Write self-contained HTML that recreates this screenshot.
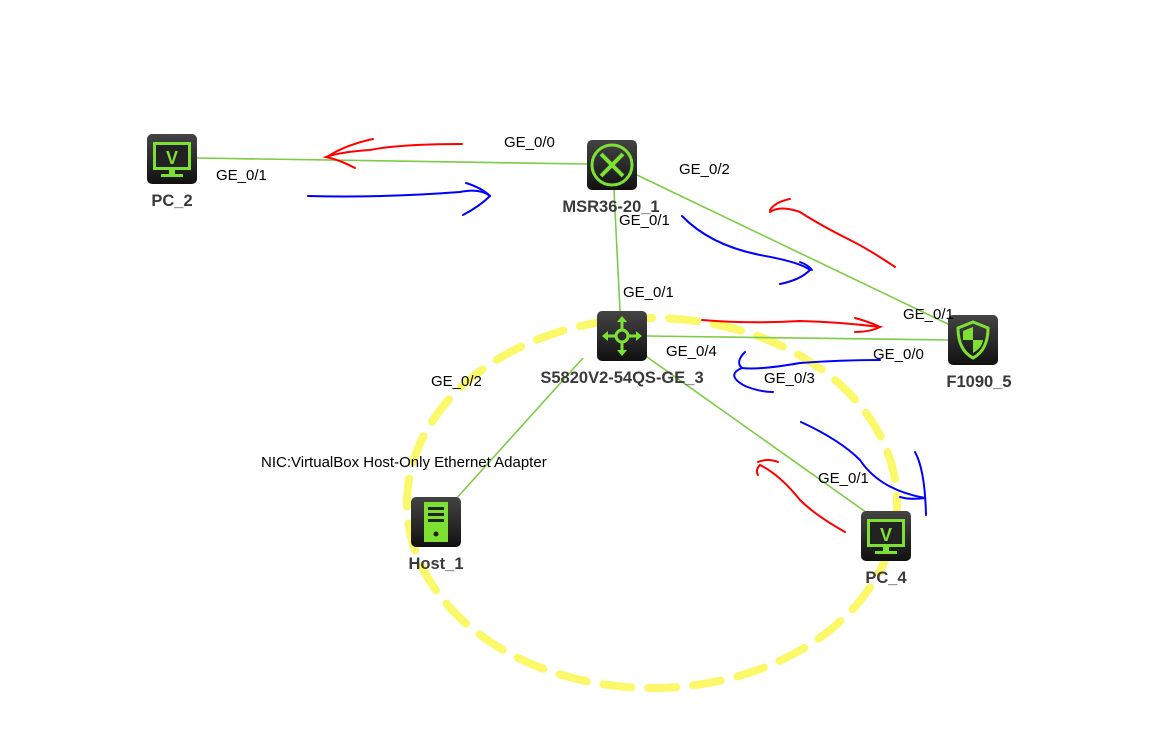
<!DOCTYPE html>
<html><head><style>body{margin:0;background:#fff}svg{display:block}text{font-family:"Liberation Sans",sans-serif}</style></head><body>
<svg width="1159" height="740" viewBox="0 0 1159 740">
<ellipse cx="652" cy="503" rx="245" ry="185" fill="none" stroke="#fbf86a" stroke-width="8" stroke-dasharray="28 17" stroke-linecap="round"/>
<g stroke="#7dcb46" stroke-width="1.6" fill="none">
<line x1="197" y1="158" x2="587" y2="164"/>
<line x1="637" y1="175" x2="952" y2="326"/>
<line x1="614" y1="190" x2="620" y2="311"/>
<line x1="647" y1="336" x2="948" y2="340"/>
<line x1="583" y1="358" x2="455" y2="500"/>
<line x1="640" y1="352" x2="870" y2="515"/>
</g>
<g fill="none" stroke-width="2" stroke-linecap="round">
<path d="M462 144 Q400 144 370 150 Q340 152 326 157 Q340 160 355 168" stroke="#f00"/>
<path d="M327 157 Q345 145 373 139" stroke="#f00"/>
<path d="M308 196 Q380 198 460 192 Q480 188 490 196 Q480 206 463 215" stroke="#00f"/>
<path d="M466 183 Q482 188 490 196" stroke="#00f"/>
<path d="M895 267 Q870 250 850 240 Q820 225 800 212 Q780 205 770 212" stroke="#f00"/>
<path d="M770 210 Q775 202 790 199" stroke="#f00"/>
<path d="M682 216 Q710 245 760 255 Q800 262 810 270 Q800 280 780 284" stroke="#00f"/>
<path d="M800 262 Q808 265 812 270" stroke="#00f"/>
<path d="M702 320 Q750 324 800 321 Q840 322 880 327 Q870 332 855 332" stroke="#f00"/>
<path d="M855 318 Q870 322 880 327" stroke="#f00"/>
<path d="M880 360 Q840 360 800 363 Q760 370 742 368 Q725 375 745 386 Q760 392 773 392" stroke="#00f"/>
<path d="M742 368 Q735 362 745 352" stroke="#00f"/>
<path d="M845 532 Q815 515 800 500 Q780 475 760 465 Q755 470 758 475" stroke="#f00"/>
<path d="M758 462 Q768 458 778 462" stroke="#f00"/>
<path d="M801 422 Q840 440 860 460 Q880 490 925 498 Q910 500 900 497" stroke="#00f"/>
<path d="M915 452 Q925 470 926 515" stroke="#00f"/>
</g>
<defs>
<linearGradient id="g" x1="0" y1="0" x2="0" y2="1"><stop offset="0" stop-color="#444"/><stop offset="1" stop-color="#111"/></linearGradient>
</defs>
<g stroke="none">
<rect x="147" y="134" width="50" height="50" rx="5" fill="url(#g)"/>
<rect x="153" y="142" width="38" height="28" fill="#7ee033"/><rect x="156" y="145" width="32" height="22" fill="#222"/>
<text x="172" y="164" font-size="18" font-weight="bold" fill="#7ee033" text-anchor="middle">V</text>
<rect x="169" y="170" width="6" height="4" fill="#7ee033"/><rect x="161" y="174" width="22" height="3" fill="#7ee033"/>
<rect x="861" y="511" width="50" height="50" rx="5" fill="url(#g)"/>
<rect x="867" y="519" width="38" height="28" fill="#7ee033"/><rect x="870" y="522" width="32" height="22" fill="#222"/>
<text x="886" y="541" font-size="18" font-weight="bold" fill="#7ee033" text-anchor="middle">V</text>
<rect x="883" y="547" width="6" height="4" fill="#7ee033"/><rect x="875" y="551" width="22" height="3" fill="#7ee033"/>
<rect x="587" y="140" width="50" height="50" rx="5" fill="url(#g)"/>
<circle cx="612" cy="165" r="20" fill="none" stroke="#7ee033" stroke-width="3"/>
<path d="M601 154 L623 176 M623 154 L601 176" stroke="#7ee033" stroke-width="4"/>
<rect x="597" y="311" width="50" height="50" rx="5" fill="url(#g)"/>
<circle cx="622" cy="336" r="6" fill="none" stroke="#7ee033" stroke-width="3"/>
<path d="M622 318 V330 M622 342 V354 M604 336 H616 M628 336 H640" stroke="#7ee033" stroke-width="3"/>
<path d="M617 322 L622 316 L627 322Z M617 350 L622 356 L627 350Z M608 331 L602 336 L608 341Z M636 331 L642 336 L636 341Z" fill="#7ee033"/>
<rect x="948" y="315" width="50" height="50" rx="5" fill="url(#g)"/>
<path d="M973 322 L988 328 Q988 350 973 358 Q958 350 958 328Z" fill="none" stroke="#7ee033" stroke-width="3"/>
<path d="M973 327 L973 340 L983 340 Q982 348 973 353Z M973 327 L963 331 L963 340 L973 340Z" fill="#7ee033"/>
<rect x="411" y="497" width="50" height="50" rx="5" fill="url(#g)"/>
<rect x="424" y="502" width="24" height="40" fill="#7ee033"/>
<rect x="428" y="507" width="16" height="3" fill="#222"/><rect x="428" y="513" width="16" height="3" fill="#222"/><rect x="428" y="519" width="16" height="3" fill="#222"/>
<circle cx="436" cy="534" r="2.5" fill="#222"/>
</g>
<g font-size="15" fill="#000">
<text x="216" y="180">GE_0/1</text>
<text x="504" y="147">GE_0/0</text>
<text x="679" y="174">GE_0/2</text>
<text x="619" y="225">GE_0/1</text>
<text x="623" y="297">GE_0/1</text>
<text x="903" y="319">GE_0/1</text>
<text x="666" y="356">GE_0/4</text>
<text x="873" y="359">GE_0/0</text>
<text x="764" y="383">GE_0/3</text>
<text x="431" y="386">GE_0/2</text>
<text x="818" y="483">GE_0/1</text>
<text x="261" y="467">NIC:VirtualBox Host-Only Ethernet Adapter</text>
</g>
<g font-size="16.5" font-weight="bold" fill="#3a3a3a" text-anchor="middle">
<text x="172" y="206">PC_2</text>
<text x="611" y="212">MSR36-20_1</text>
<text x="622" y="383">S5820V2-54QS-GE_3</text>
<text x="979" y="387">F1090_5</text>
<text x="436" y="569">Host_1</text>
<text x="886" y="583">PC_4</text>
</g>
</svg>
</body></html>
